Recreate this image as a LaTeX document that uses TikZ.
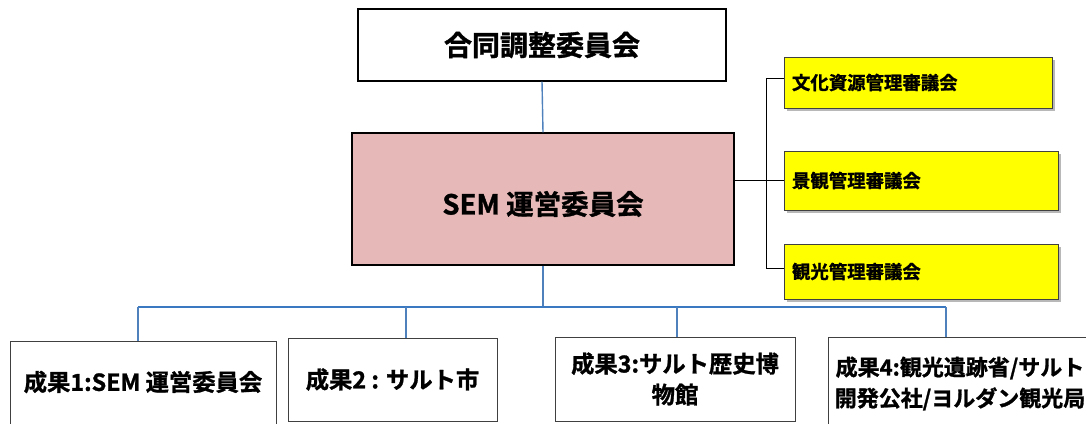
\documentclass[tikz,border=0pt]{standalone}
\usepackage{fontspec}
\setmainfont{Noto Sans CJK JP}[BoldFont={Noto Sans CJK JP Bold},BoldFeatures={FakeBold=1.2}]
\usetikzlibrary{shadows}
\definecolor{pinkfill}{HTML}{E6B8B7}
\definecolor{linkblue}{HTML}{4F81BD}
\definecolor{busblue}{HTML}{3A78C2}
\definecolor{boxgray}{HTML}{404040}
\definecolor{councilyellow}{HTML}{FFFF00}
\tikzset{
  topbox/.style={draw=black, line width=1.2pt, fill=white, inner sep=0pt, font=\bfseries\fontsize{28}{32}\selectfont},
  mainbox/.style={draw=black, line width=1.2pt, fill=pinkfill, inner sep=0pt, font=\bfseries\fontsize{27.5}{32}\selectfont},
  outbox/.style={draw=boxgray, line width=0.9pt, fill=white, inner sep=0pt, align=center, font=\bfseries\fontsize{23.3}{31}\selectfont},
  councilbox/.style={draw=boxgray, line width=0.9pt, fill=councilyellow, inner ysep=0pt, inner xsep=8pt, align=left,
    drop shadow={shadow xshift=2.5pt, shadow yshift=-2.5pt, fill=gray!70, opacity=0.8},
    font=\bfseries\fontsize{18.4}{22}\selectfont},
  bluelink/.style={draw=linkblue, line width=1.4pt},
  buslink/.style={draw=busblue, line width=1.8pt},
  blacklink/.style={draw=black, line width=1pt}
}
\begin{document}
\begin{tikzpicture}[x=1pt,y=-1pt]
\useasboundingbox (0,0) rectangle (1086,423);
% top
\node[topbox, minimum width=368pt, minimum height=72pt] (jcc) at (542,45) {合同調整委員会};
\node[mainbox, minimum width=382pt, minimum height=132pt] (sem) at (543,199) {\raisebox{-5pt}[\height][\depth]{SEM 運営委員会}};
% councils
\node[councilbox, text width=252pt, minimum height=51pt] (c1) at (918,82.5) {文化資源管理審議会};
\node[councilbox, text width=258pt, minimum height=59pt] (c2) at (921,180.5) {景観管理審議会};
\node[councilbox, text width=258pt, minimum height=55pt] (c3) at (921,271.5) {観光管理審議会};
% outputs
\node[outbox, minimum width=266pt, minimum height=90pt] (o1) at (143,386) {\raisebox{4pt}[\height][\depth]{成果1:SEM 運営委員会}};
\node[outbox, minimum width=209pt, minimum height=83pt] (o2) at (392.5,379.5) {成果2 : サルト市};
\node[outbox, minimum width=240pt, minimum height=84pt] (o3) at (675,379) {成果3:サルト歴史博\\物館};
\node[outbox, minimum width=264pt, minimum height=93pt, font=\bfseries\fontsize{22}{31}\selectfont] (o4) at (960,383.5) {成果4:観光遺跡省/サルト\\開発公社/ヨルダン観光局};
% connectors
\draw[bluelink] (jcc.south) -- (sem.north);
\coordinate (bus) at (543,307);
\coordinate (d1) at (138,307);
\coordinate (d2) at (406,307);
\coordinate (d3) at (677,307);
\coordinate (d4) at (946,307);
\draw[bluelink] (sem.south) -- (bus);
\draw[buslink] (d1) -- (d4);
\draw[bluelink] (d1) -- (d1 |- o1.north);
\draw[bluelink] (d2) -- (d2 |- o2.north);
\draw[bluelink] (d3) -- (d3 |- o3.north);
\draw[bluelink] (d4) -- (d4 |- o4.north);
\coordinate (spine) at (766,180);
\draw[blacklink] (sem.east |- spine) -- (spine);
\draw[blacklink] (c1.west |- 0,78) -| (spine |- 0,78) -- (spine |- 0,268) -- (c3.west |- 0,268);
\draw[blacklink] (spine) -- (c2.west |- spine);
\end{tikzpicture}
\end{document}
